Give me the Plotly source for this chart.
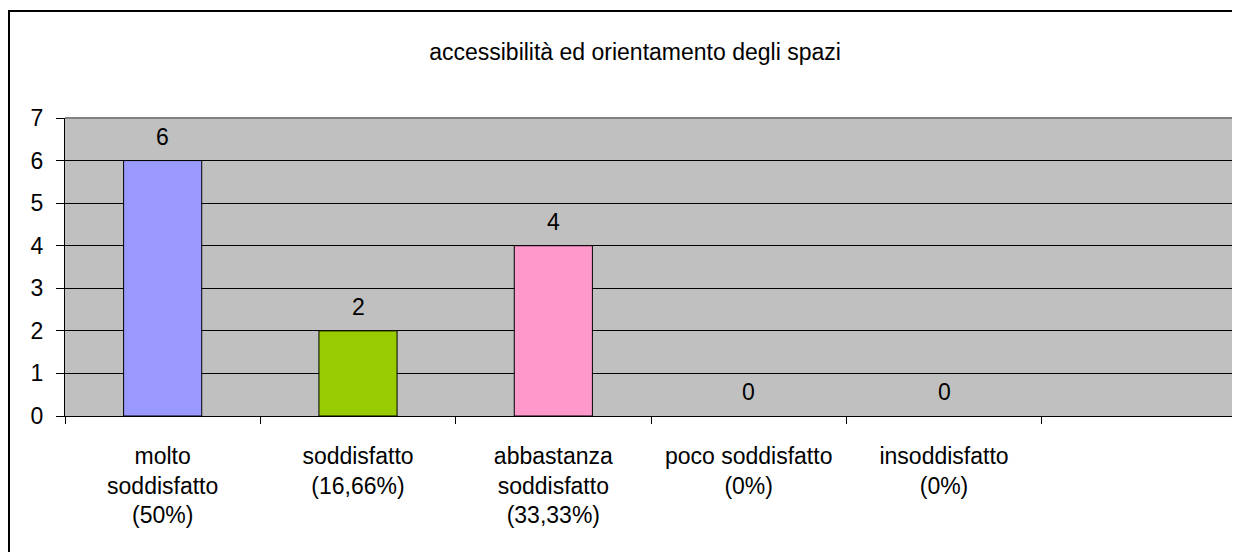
import plotly.graph_objects as go

# categorie e valori
categorie = ["molto<br>soddisfatto<br>(50%)", "soddisfatto<br>(16,66%)",
             "abbastanza<br>soddisfatto<br>(33,33%)", "poco soddisfatto<br>(0%)",
             "insoddisfatto<br>(0%)", " "]
valori = [6, 2, 4, 0, 0, None]
colori = ["#9999FF", "#99CC00", "#FF99CC", "#FFFFCC", "#CCFFFF", "#660066"]
titolo = "accessibilità ed orientamento degli spazi"

font = "Liberation Sans, Arial, sans-serif"
dim = 23

# la pagina sposta il grafico di 8px: le coordinate sono corrette di conseguenza
sx, sy = 8, 8
pl, pr, pt, pb = 65 - sx, 1237 - sx, 118 - sy, 416 - sy
larg, alt = pr - pl, pb - pt

fig = go.Figure()
fig.add_trace(go.Bar(
    x=categorie,
    y=valori,
    width=0.4,
    marker=dict(color=colori,
                line=dict(color="black", width=[1 if v else 0 for v in valori])),
    hoverinfo="x+y",
))

etichette = []
for c, v in zip(categorie, valori):
    if v is None:
        continue
    etichette.append(dict(x=c, y=v, text=str(v), showarrow=False,
                          yshift=24, yanchor="middle",
                          font=dict(size=dim, color="black", family=font)))

fig.update_layout(
    width=1240, height=552,
    margin=dict(l=pl, r=1240 - pr, t=pt, b=552 - pb),
    plot_bgcolor="#C0C0C0",
    paper_bgcolor="white",
    showlegend=False,
    font=dict(family=font, size=dim, color="black"),
    title=dict(text=titolo, x=(635 - sx) / 1240, xref="container", xanchor="center",
               y=1 - (52 - sy) / 552, yref="container", yanchor="middle",
               font=dict(size=dim, family=font)),
    annotations=etichette,
    shapes=[
        # bordo esterno del grafico
        dict(type="rect", xref="paper", yref="paper",
             x0=(9 - sx - pl) / larg, x1=1.2, y0=-0.8, y1=(pb - (11 - sy)) / alt,
             line=dict(color="black", width=2), fillcolor="rgba(0,0,0,0)"),
        # bordo grigio dell'area del tracciato
        dict(type="line", xref="paper", yref="paper", x0=0, x1=1, y0=1, y1=1,
             line=dict(color="#808080", width=2)),
        dict(type="line", xref="paper", yref="paper", x0=1, x1=1, y0=0, y1=1,
             line=dict(color="#808080", width=2)),
    ],
)

fig.update_xaxes(
    type="category",
    tickson="boundaries",
    ticks="outside", ticklen=7, tickcolor="black", tickwidth=1,
    showline=True, linecolor="black", linewidth=1,
    showgrid=False,
    tickfont=dict(size=dim, family=font),
    ticklabelstandoff=19,
)
fig.update_yaxes(
    range=[0, 7], dtick=1,
    ticks="outside", ticklen=8, tickcolor="black", tickwidth=1,
    showline=True, linecolor="black", linewidth=1,
    showgrid=True, gridcolor="black", gridwidth=1,
    zeroline=False,
    tickfont=dict(size=dim, family=font),
    ticklabelstandoff=8,
)

fig.write_html("out.html")
